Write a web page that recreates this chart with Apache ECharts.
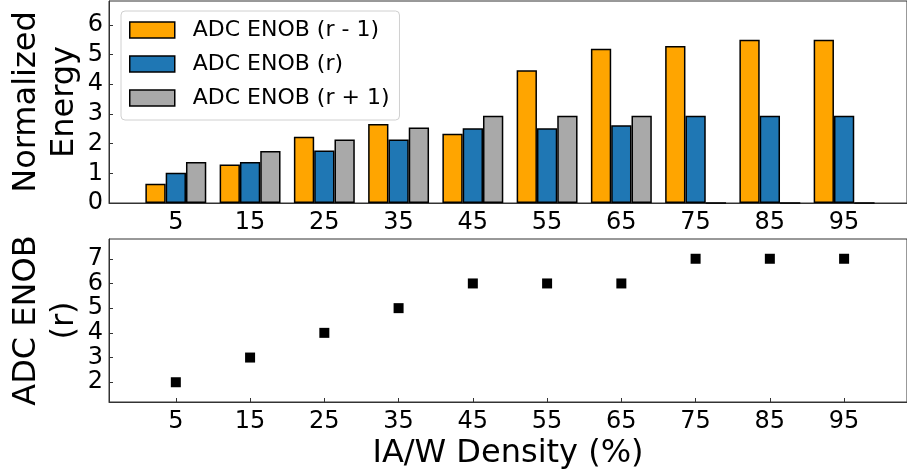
<!DOCTYPE html>
<html>
<head>
<meta charset="utf-8">
<script src="https://cdn.jsdelivr.net/npm/echarts@6/dist/echarts.min.js"></script>
<style>
  html, body { margin: 0; padding: 0; background: #fff; }
  #chart { width: 907px; height: 474px; }
</style>
</head>
<body>
<div id="chart"></div>
<script>
// IA/W density sweep (percent)
const densities = [5, 15, 25, 35, 45, 55, 65, 75, 85, 95];

// Normalized energy for each ADC resolution choice
const energyRMinus1 = [0.65, 1.30, 2.23, 2.66, 2.33, 4.47, 5.20, 5.29, 5.50, 5.50];
const energyR       = [1.02, 1.38, 1.77, 2.14, 2.52, 2.52, 2.62, 2.94, 2.94, 2.94];
const energyRPlus1  = [1.38, 1.75, 2.14, 2.54, 2.94, 2.94, 2.94, 0, 0, 0];

// Selected ADC ENOB (r) per density
const enobR = [2, 3, 4, 5, 6, 6, 6, 7, 7, 7];

// Tick labels
const xTicks = [5, 15, 25, 35, 45, 55, 65, 75, 85, 95];
const energyTicks = [0, 1, 2, 3, 4, 5, 6];
const enobTicks = [2, 3, 4, 5, 6, 7];

const seriesNames = ['ADC ENOB (r - 1)', 'ADC ENOB (r)', 'ADC ENOB (r + 1)'];
const seriesColors = ['#FFA500', '#1F77B4', '#A9A9A9'];

const FONT = 'DejaVu Sans';
const AXIS_COLOR = '#333';
const pairs = (ys) => densities.map((d, i) => [d, ys[i]]);

const xCommon = {
  type: 'value',
  min: -4,
  max: 103.47,
  axisLine: { show: true, onZero: false, lineStyle: { color: AXIS_COLOR, width: 1 } },
  axisTick: { show: true, inside: true, length: 4, customValues: xTicks, lineStyle: { color: AXIS_COLOR } },
  axisLabel: { customValues: xTicks, fontFamily: FONT, fontSize: 24, color: '#000', margin: 8 },
  splitLine: { show: false }
};

const yCommon = {
  type: 'value',
  axisLine: { show: true, onZero: false, lineStyle: { color: AXIS_COLOR, width: 1 } },
  axisTick: { show: true, inside: true, length: 4, lineStyle: { color: AXIS_COLOR } },
  splitLine: { show: false },
  nameLocation: 'middle',
  nameRotate: 90,
  nameMoveOverlap: false
};

const chart = echarts.init(document.getElementById('chart'), null, { renderer: 'canvas' });

chart.setOption({
  animation: false,
  backgroundColor: '#fff',
  textStyle: { fontFamily: FONT },
  grid: [
    { left: 109, top: 1, width: 800, height: 202, show: true, borderColor: AXIS_COLOR, borderWidth: 1, backgroundColor: 'transparent' },
    { left: 109, top: 239, width: 800, height: 163, show: true, borderColor: AXIS_COLOR, borderWidth: 1, backgroundColor: 'transparent' }
  ],
  xAxis: [
    Object.assign({}, xCommon, { gridIndex: 0 }),
    Object.assign({}, xCommon, {
      gridIndex: 1,
      name: 'IA/W Density (%)',
      nameLocation: 'middle',
      nameGap: 36,
      nameTextStyle: { fontFamily: FONT, fontSize: 32, color: '#000', verticalAlign: 'top' }
    })
  ],
  yAxis: [
    Object.assign({}, yCommon, {
      gridIndex: 0,
      min: 0,
      max: 6.805,
      axisTick: Object.assign({}, yCommon.axisTick, { customValues: energyTicks }),
      axisLabel: { customValues: energyTicks, fontFamily: FONT, fontSize: 24, color: '#000', margin: 6 },
      name: 'Normalized\nEnergy',
      nameGap: 25,
      nameTextStyle: { fontFamily: FONT, fontSize: 32, lineHeight: 38, color: '#000', align: 'center' }
    }),
    Object.assign({}, yCommon, {
      gridIndex: 1,
      min: 1.2,
      max: 7.8,
      axisTick: Object.assign({}, yCommon.axisTick, { customValues: enobTicks }),
      axisLabel: { customValues: enobTicks, fontFamily: FONT, fontSize: 24, color: '#000', margin: 6 },
      name: 'ADC ENOB\n(r)',
      nameGap: 25,
      nameTextStyle: { fontFamily: FONT, fontSize: 32, lineHeight: 38, color: '#000', align: 'center' }
    })
  ],
  legend: {
    orient: 'vertical',
    left: 121,
    top: 11,
    data: seriesNames.map((n) => ({ name: n, icon: 'rect' })),
    itemWidth: 45,
    itemHeight: 16,
    itemGap: 12,
    padding: [8, 10, 11, 8],
    backgroundColor: 'rgba(255,255,255,0.8)',
    borderColor: '#d0d0d0',
    borderWidth: 1,
    borderRadius: 4,
    textStyle: { fontFamily: FONT, fontSize: 22, lineHeight: 20, color: '#000', padding: [0, 0, 0, 13] },
    itemStyle: { borderColor: '#000', borderWidth: 1.5 }
  },
  series: [
    { name: seriesNames[0], type: 'bar', xAxisIndex: 0, yAxisIndex: 0, data: pairs(energyRMinus1) },
    { name: seriesNames[1], type: 'bar', xAxisIndex: 0, yAxisIndex: 0, data: pairs(energyR) },
    { name: seriesNames[2], type: 'bar', xAxisIndex: 0, yAxisIndex: 0, data: pairs(energyRPlus1) }
  ].map((s, i) => Object.assign(s, {
    barWidth: 20.3,
    barGap: '0%',
    itemStyle: { color: seriesColors[i], borderColor: '#000', borderWidth: 1.5 },
    emphasis: { disabled: true }
  })).concat([{
    name: 'ENOB',
    type: 'scatter',
    xAxisIndex: 1,
    yAxisIndex: 1,
    symbol: 'rect',
    symbolSize: 10,
    itemStyle: { color: '#000', opacity: 1 },
    emphasis: { disabled: true },
    data: pairs(enobR)
  }])
});
</script>
</body>
</html>
